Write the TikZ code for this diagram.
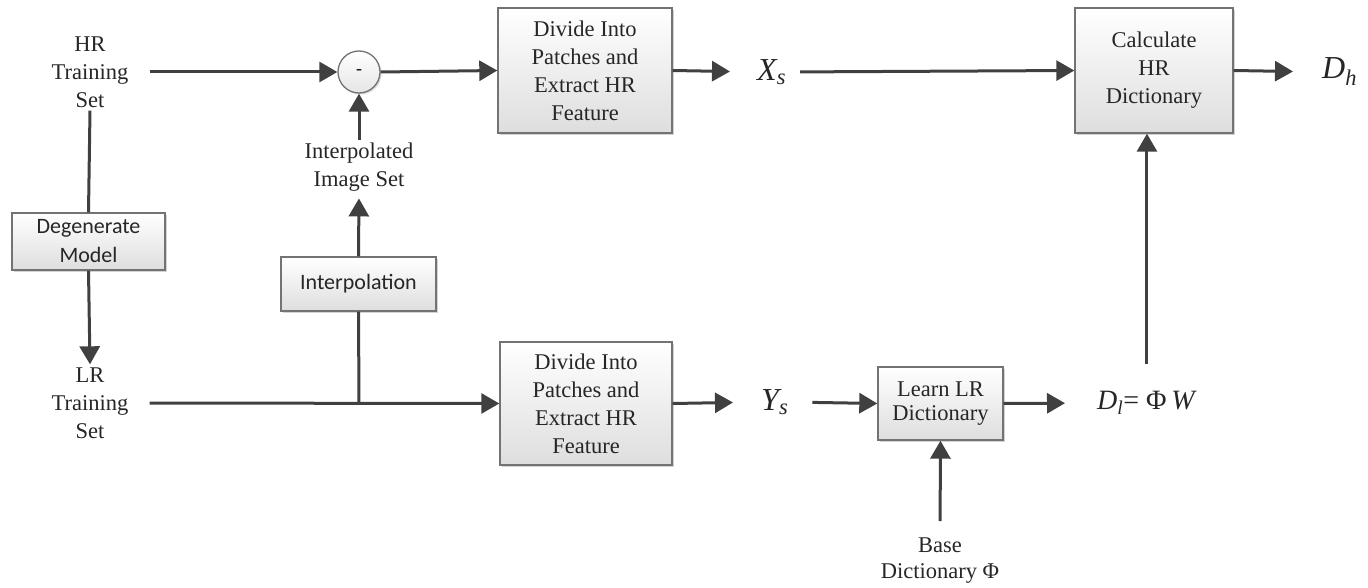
\documentclass[tikz,border=0pt]{standalone}
\usepackage{fontspec}
\setmainfont{Liberation Serif}
\newfontfamily\boxsans{Carlito}
\usetikzlibrary{arrows.meta,shadows,calc}

\tikzset{
  arr/.style={line width=3pt, draw=black!75, -{Triangle[length=18pt,width=20pt]}},
  wire/.style={line width=3pt, draw=black!75},
  stage/.style={draw=black!55, line width=1.4pt, top color=white, bottom color=black!13,
    drop shadow={opacity=0.35, shadow xshift=2pt, shadow yshift=-2pt},
    align=center, inner sep=0pt, text=black!85, font=\fontsize{22.5}{28}\selectfont},
  sansstage/.style={stage, font=\boxsans\fontsize{22}{29}\selectfont},
  lbl/.style={align=center, inner sep=3pt, text=black!85, font=\fontsize{22.5}{28}\selectfont},
  sym/.style={inner sep=0pt, anchor=west, text=black!85, font=\fontsize{32}{34}\selectfont\itshape},
}

\begin{document}
\begin{tikzpicture}[x=1pt,y=-1pt]
\useasboundingbox (0,0) rectangle (1368,588);

% upper branch
\node[lbl] (hr) at (90,72) {HR\\Training\\Set};
\node[draw=black!55, line width=1.3pt, circle, minimum size=42pt, inner sep=0pt,
      top color=white, bottom color=black!10,
      drop shadow={opacity=0.3, shadow xshift=1.5pt, shadow yshift=-1.5pt},
      font=\fontsize{18}{20}\selectfont] (sub) at (359,72) {-};
\node[stage, minimum width=174pt, minimum height=125pt] (div1) at (585,70.5)
  {Divide Into\\Patches and\\Extract HR\\Feature};
\node[sym] (xs) at (757,72) {X\textsubscript{s}};
\node[stage, minimum width=158pt, minimum height=125pt] (calc) at (1154,70.5)
  {Calculate\\HR\\Dictionary};
\node[sym] (dh) at (1322,72) {D\textsubscript{h}};

% degeneration and interpolation
\node[sansstage, minimum width=153pt, minimum height=57pt] (deg) at (88.5,241.5)
  {Degenerate\\Model};
\node[lbl] (interpd) at (359,167) {Interpolated\\Image Set};
\node[sansstage, minimum width=155pt, minimum height=54pt] (interp) at (358.5,284)
  {Interpolation};

% lower branch
\node[lbl] (lr) at (90,403) {LR\\Training\\Set};
\node[stage, minimum width=172pt, minimum height=123pt] (div2) at (586,403.5)
  {Divide Into\\Patches and\\Extract HR\\Feature};
\node[sym] (ys) at (761,402) {Y\textsubscript{s}};
\node[stage, minimum width=125pt, minimum height=73pt,
      font=\fontsize{22.5}{24}\selectfont] (learn) at (940.5,403.5)
  {Learn LR\\Dictionary};
\node[sym, font=\fontsize{28}{30}\selectfont] (dl) at (1097,403)
  {\textit{D}\textsubscript{\textit{l}}= Φ\,\textit{W}};
\node[lbl, font=\fontsize{22.5}{26}\selectfont] (base) at (940,561) {Base\\Dictionary Φ};

\coordinate (j) at (359,403);

% connectors
\draw[arr, shorten <=18pt] (hr.east) -- (sub.west);
\draw[arr] (sub.east) -- (div1.west);
\draw[arr, shorten >=27pt] (div1.east) -- (xs.west);
\draw[arr, shorten <=14pt] (xs.east) -- (calc.west);
\draw[arr, shorten >=29pt] (calc.east) -- (dh.west);

\draw[wire] (hr.south) -- (deg.north);
\draw[arr] (deg.south) -- (lr.north);

\draw[arr, shorten <=18pt] (lr.east) -- (div2.west);
\draw[wire] (j) -- (interp.south);
\draw[arr, shorten >=4pt] (interp.north) -- (interpd.south);
\draw[arr] (interpd.north) -- (sub.south);

\draw[arr, shorten >=28pt] (div2.east) -- (ys.west);
\draw[arr, shorten <=24pt] (ys.east) -- (learn.west);
\draw[arr, shorten >=32pt] (learn.east) -- (dl.west);
\draw[arr, shorten <=27pt] (dl.north) -- (dl.north |- calc.south);
\draw[arr, shorten <=14pt] (base.north) -- (learn.south);
\end{tikzpicture}
\end{document}
